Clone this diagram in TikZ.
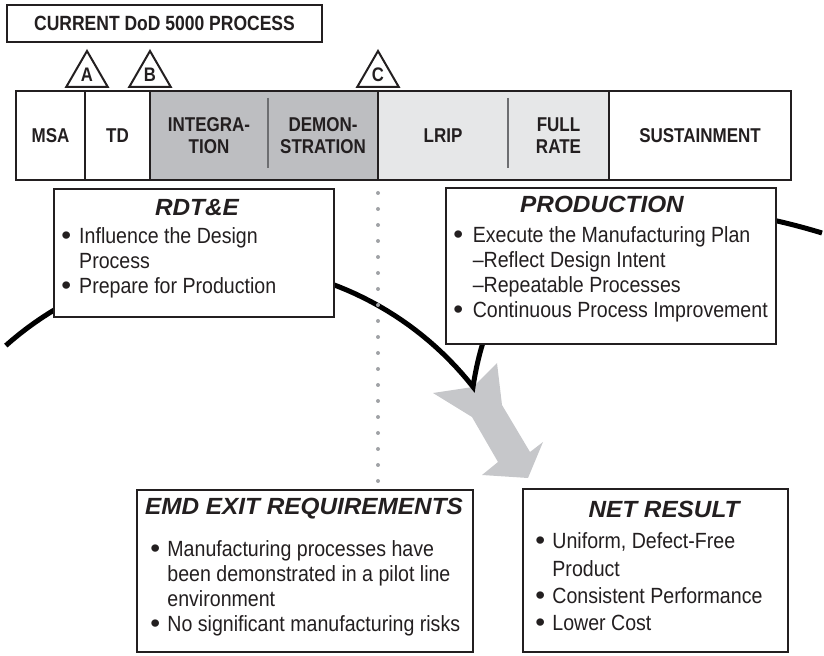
\documentclass[tikz,border=0pt]{standalone}
\usepackage{fontspec}
\setmainfont{Liberation Sans}[FakeStretch=0.89]
\newfontfamily\headfamily{Liberation Sans}[FakeStretch=1.04]
\newfontfamily\phasefamily{Liberation Sans}[FakeStretch=0.85]
\usepackage{tikz}
\usetikzlibrary{positioning, shapes.geometric}

\definecolor{inkblack}{RGB}{35,31,32}
\definecolor{emdgray}{RGB}{189,190,193}
\definecolor{prodgray}{RGB}{230,231,232}
\definecolor{arrowgray}{RGB}{198,199,202}
\definecolor{dotgray}{RGB}{160,162,166}
\definecolor{sepgray}{RGB}{109,110,113}

\newcommand{\bul}{\raisebox{-0.5pt}{\headfamily\fontsize{13.5}{13.5}\selectfont\textbullet}}

\begin{document}
\begin{tikzpicture}[
      x=0.5pt, y=-0.5pt,
      every node/.style={text=inkblack},
      phase_cell/.style={rectangle, draw=none, fill=white, outer sep=0pt, inner sep=0pt, minimum height=44.5pt, align=center, font=\phasefamily\bfseries\fontsize{10}{11}\selectfont},
      title_box/.style={rectangle, draw=inkblack, line width=1pt, fill=white, minimum width=157.5pt, minimum height=18.5pt, inner sep=0pt, font=\phasefamily\bfseries\fontsize{10.3}{11}\selectfont},
      gate_mark/.style={regular polygon, regular polygon sides=3, draw=inkblack, fill=white, line width=1pt, minimum size=24pt, inner sep=0pt, outer sep=0pt, font=\phasefamily\bfseries\fontsize{9.8}{10}\selectfont},
      info_box/.style={rectangle, draw=inkblack, line width=1pt, fill=white, anchor=north west, inner sep=0pt, outer sep=0pt},
      head_text/.style={anchor=base, inner sep=0pt, font=\headfamily\bfseries\itshape\fontsize{11.7}{13}\selectfont},
      body_text/.style={anchor=base west, inner sep=0pt, font=\fontsize{11}{12.4}\selectfont},
      bar_line/.style={draw=inkblack, line width=1.2pt},
      sep_line/.style={draw=sepgray, line width=1pt},
      arc_line/.style={draw=black, line width=2.5pt, line join=miter},
      dot_line/.style={draw=dotgray, line width=2pt, line cap=round, dash pattern=on 0pt off 8pt}
    ]
      \useasboundingbox (0,0) rectangle (824,656);

      \coordinate (cusp) at (473,387);
      \fill[arrowgray] (433,393) -- (cusp) -- (497,363) -- (502,405) -- (530,452) -- (543,442)
        -- (528,478) -- (482,475) -- (498,462) -- (472,417) -- cycle;
      \draw[arc_line] plot[domain=131.7:38.2, samples=60] ({220+322*cos(\x)}, {586-322*sin(\x)})
        .. controls (503,187) and (678,189) .. (822,233);

      \node[title_box] (title) at (164.5,23.5) {CURRENT DoD 5000 PROCESS};

      \node[phase_cell, minimum width=34.5pt] (msa) at (50.5,135.5) {MSA};
      \node[phase_cell, minimum width=32.5pt, right=0pt of msa] (td) {TD};
      \node[phase_cell, fill=emdgray, minimum width=59pt, right=0pt of td] (integ) {INTEGRA-\\TION};
      \node[phase_cell, fill=emdgray, minimum width=55pt, right=0pt of integ] (demo) {DEMON-\\STRATION};
      \node[phase_cell, fill=prodgray, minimum width=65pt, right=0pt of demo] (lrip) {LRIP};
      \node[phase_cell, fill=prodgray, minimum width=50.5pt, right=0pt of lrip] (fullrate) {FULL\\RATE};
      \node[phase_cell, minimum width=91pt, right=0pt of fullrate] (sust) {SUSTAINMENT};

      \draw[bar_line] (msa.north west) rectangle (sust.south east);
      \foreach \cell in {msa, td, demo, fullrate}
        \draw[bar_line] (\cell.north east) -- (\cell.south east);
      \foreach \cell in {integ, lrip}
        \draw[sep_line] ([yshift=-3.5pt]\cell.north east) -- ([yshift=6pt]\cell.south east);

      \node[gate_mark, anchor=side 2] (gateA) at ([xshift=1pt, yshift=2pt]msa.north east) {A};
      \node[gate_mark, anchor=side 2] (gateB) at ([yshift=2pt]td.north east) {B};
      \node[gate_mark, anchor=side 2] (gateC) at ([yshift=2pt]demo.north east) {C};

      \node[info_box, minimum width=140pt, minimum height=64pt] (rdte) at (54,189) {};
      \node[head_text] (rdtehead) at (197,216) {RDT\&E};
      \node[body_text] (rdtebody) at (61,244) {\begin{tabular}[t]{@{}l@{\hspace{4pt}}l@{}}
        \bul & Influence the Design\\
             & Process\\
        \bul & Prepare for Production
      \end{tabular}};

      \node[info_box, minimum width=165pt, minimum height=78pt] (prod) at (446,188) {};
      \node[head_text] (prodhead) at (602,213) {PRODUCTION};
      \node[body_text] (prodbody) at (453,243) {\begin{tabular}[t]{@{}l@{\hspace{4.8pt}}l@{}}
        \bul & Execute the Manufacturing Plan\\
             & --Reflect Design Intent\\
             & --Repeatable Processes\\
        \bul & Continuous Process Improvement
      \end{tabular}};

      \node[info_box, minimum width=168pt, minimum height=81pt] (emd) at (137,490) {};
      \node[head_text] (emdhead) at (304,515) {EMD EXIT REQUIREMENTS};
      \node[body_text] (emdbody) at (150,557) {\begin{tabular}[t]{@{}l@{\hspace{3.6pt}}l@{}}
        \bul & Manufacturing processes have\\
             & been demonstrated in a pilot line\\
             & environment\\
        \bul & No significant manufacturing risks
      \end{tabular}};

      \node[info_box, minimum width=132.5pt, minimum height=81.5pt] (netres) at (523,489) {};
      \node[head_text] (nethead) at (664,518) {NET RESULT};
      \node[body_text] (netbody) at (535,549) {\renewcommand{\arraystretch}{1.1}\begin{tabular}[t]{@{}l@{\hspace{3.6pt}}l@{}}
        \bul & Uniform, Defect-Free\\
             & Product\\
        \bul & Consistent Performance\\
        \bul & Lower Cost
      \end{tabular}};

      \coordinate (dotend) at (demo.south east |- emd.north);
      \draw[dot_line] ([yshift=-6.5pt]demo.south east) -- ([yshift=4pt]dotend);
    \end{tikzpicture}
\end{document}
